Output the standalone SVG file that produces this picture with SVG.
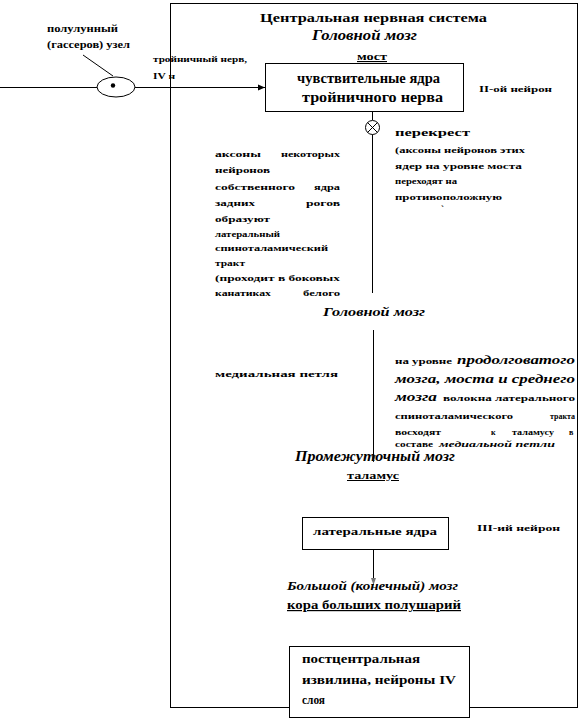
<svg xmlns="http://www.w3.org/2000/svg" width="581" height="720" viewBox="0 0 581 720">
<style>
text{font-family:"Liberation Serif","DejaVu Serif",serif;font-weight:bold;fill:#000}
.i{font-style:italic}
.u{text-decoration:underline}
.ln{stroke:#000;stroke-width:1;fill:none}
.box{stroke:#000;stroke-width:1;fill:#fff}
</style>
<defs>
<marker id="ah" markerWidth="8" markerHeight="8" refX="7" refY="4" orient="auto" markerUnits="userSpaceOnUse">
<path d="M0,1 L7,4 L0,7 Z" fill="#000"/>
</marker>
<marker id="ahg" markerWidth="8" markerHeight="8" refX="7" refY="4" orient="auto" markerUnits="userSpaceOnUse">
<path d="M0,1.5 L7,4 L0,6.5 Z" fill="#777"/>
</marker>
</defs>
<g id="frame">
<rect x="170.5" y="3.5" width="407" height="704" class="ln"/>
</g>
<g id="connectors">
<line x1="0" y1="87.5" x2="97" y2="87.5" class="ln"/>
<line x1="135" y1="87.5" x2="265" y2="87.5" class="ln" marker-end="url(#ah)"/>
<line x1="83" y1="55" x2="113" y2="76" class="ln"/>
<line x1="372.5" y1="111" x2="372.5" y2="120" class="ln"/>
<line x1="372.5" y1="134" x2="372.5" y2="293" class="ln"/>
<line x1="373.5" y1="330" x2="373.5" y2="462" class="ln" marker-end="url(#ahg)"/>
<line x1="373.5" y1="549" x2="373.5" y2="585" class="ln" stroke="#555" marker-end="url(#ahg)"/>
</g>
<g id="ganglion">
<ellipse cx="116" cy="87" rx="19" ry="10" class="box"/>
<circle cx="113" cy="85.5" r="2.2" fill="#000"/>
<text x="47" y="32" font-size="10" textLength="71" lengthAdjust="spacingAndGlyphs">полулунный</text>
<text x="47" y="48" font-size="10" textLength="83" lengthAdjust="spacingAndGlyphs">(гассеров) узел</text>
</g>
<g id="nerve-label">
<text x="153" y="62" font-size="8" textLength="94" lengthAdjust="spacingAndGlyphs">тройничный нерв,</text>
<text x="153" y="79" font-size="9" textLength="22" lengthAdjust="spacingAndGlyphs">IV н</text>
</g>
<g id="titles">
<text x="260" y="22" font-size="13" textLength="227" lengthAdjust="spacingAndGlyphs">Центральная нервная система</text>
<text x="312" y="40" font-size="14" class="i" textLength="105" lengthAdjust="spacingAndGlyphs">Головной мозг</text>
<text x="357" y="60" font-size="11" class="u" textLength="30" lengthAdjust="spacingAndGlyphs">мост</text>
</g>
<g id="node-trigeminal">
<rect x="265.5" y="63.5" width="198" height="48" class="box"/>
<text x="297" y="83" font-size="14" textLength="143" lengthAdjust="spacingAndGlyphs">чувствительные ядра</text>
<text x="302" y="102" font-size="14" textLength="141" lengthAdjust="spacingAndGlyphs">тройничного нерва</text>
</g>
<text x="479" y="92" font-size="9" textLength="73" lengthAdjust="spacingAndGlyphs">II-ой  нейрон</text>
<g id="cross">
<circle cx="372.5" cy="127.5" r="7" class="box"/>
<line x1="367.5" y1="122.5" x2="377.5" y2="132.5" class="ln"/>
<line x1="377.5" y1="122.5" x2="367.5" y2="132.5" class="ln"/>
</g>
<g id="cross-text">
<text x="395" y="136" font-size="11" textLength="75" lengthAdjust="spacingAndGlyphs">перекрест</text>
<text x="395" y="153" font-size="8" textLength="130" lengthAdjust="spacingAndGlyphs">(аксоны нейронов этих</text>
<text x="395" y="169" font-size="8" textLength="127" lengthAdjust="spacingAndGlyphs">ядер на уровне моста</text>
<text x="395" y="184" font-size="8" textLength="62" lengthAdjust="spacingAndGlyphs">переходят на</text>
<text x="395" y="200" font-size="8" textLength="107" lengthAdjust="spacingAndGlyphs">противоположную</text>
<text x="441" y="212" font-size="9">`</text>
</g>
<g id="left-text">
<text x="215" y="157" font-size="8" textLength="46" lengthAdjust="spacingAndGlyphs">аксоны</text><text x="281" y="157" font-size="8" textLength="59" lengthAdjust="spacingAndGlyphs">некоторых</text>
<text x="215" y="173" font-size="8" textLength="55" lengthAdjust="spacingAndGlyphs">нейронов</text>
<text x="215" y="190" font-size="8" textLength="80" lengthAdjust="spacingAndGlyphs">собственного</text><text x="314" y="190" font-size="8" textLength="26" lengthAdjust="spacingAndGlyphs">ядра</text>
<text x="215" y="206" font-size="8" textLength="40" lengthAdjust="spacingAndGlyphs">задних</text><text x="306" y="206" font-size="8" textLength="34" lengthAdjust="spacingAndGlyphs">рогов</text>
<text x="215" y="222" font-size="8" textLength="55" lengthAdjust="spacingAndGlyphs">образуют</text>
<text x="215" y="237" font-size="8" textLength="65" lengthAdjust="spacingAndGlyphs">латеральный</text>
<text x="215" y="251" font-size="8" textLength="113" lengthAdjust="spacingAndGlyphs">спиноталамический</text>
<text x="215" y="266" font-size="8" textLength="30" lengthAdjust="spacingAndGlyphs">тракт</text>
<text x="215" y="281" font-size="8" textLength="125" lengthAdjust="spacingAndGlyphs">(проходит  в  боковых</text>
<text x="215" y="296" font-size="8" textLength="56" lengthAdjust="spacingAndGlyphs">канатиках</text><text x="303" y="296" font-size="8" textLength="37" lengthAdjust="spacingAndGlyphs">белого</text>
</g>
<text x="323" y="316" font-size="13" class="i" textLength="102" lengthAdjust="spacingAndGlyphs">Головной мозг</text>
<text x="215" y="377" font-size="9" textLength="123" lengthAdjust="spacingAndGlyphs">медиальная петля</text>
<g id="right-text">
<text x="395" y="364" font-size="8" textLength="57" lengthAdjust="spacingAndGlyphs">на уровне</text>
<text x="457" y="364" font-size="12" class="i" font-weight="normal" textLength="118" lengthAdjust="spacingAndGlyphs">продолговатого</text>
<text x="395" y="383" font-size="12" class="i" font-weight="normal" textLength="180" lengthAdjust="spacingAndGlyphs">мозга,  моста  и  среднего</text>
<text x="395" y="401" font-size="12" class="i" font-weight="normal" textLength="42" lengthAdjust="spacingAndGlyphs">мозга</text>
<text x="443" y="401" font-size="8" textLength="132" lengthAdjust="spacingAndGlyphs">волокна  латерального</text>
<text x="395" y="419" font-size="8" textLength="118" lengthAdjust="spacingAndGlyphs">спиноталамического</text><text x="550" y="419" font-size="8" textLength="25" lengthAdjust="spacingAndGlyphs">тракта</text>
<text x="395" y="435" font-size="8" textLength="46" lengthAdjust="spacingAndGlyphs">восходят</text><text x="491" y="435" font-size="8">к</text><text x="512" y="435" font-size="8" textLength="42" lengthAdjust="spacingAndGlyphs">таламусу</text><text x="569" y="435" font-size="8">в</text>
<text x="395" y="447" font-size="8" textLength="38" lengthAdjust="spacingAndGlyphs">составе</text>
<text x="439" y="447" font-size="8" class="i" textLength="116" lengthAdjust="spacingAndGlyphs">медиальной петли</text>
</g>
<text x="295" y="461" font-size="14" class="i" textLength="160" lengthAdjust="spacingAndGlyphs">Промежуточный мозг</text>
<text x="347" y="479" font-size="10" class="u" textLength="52" lengthAdjust="spacingAndGlyphs">таламус</text>
<g id="node-lateral">
<rect x="302.5" y="517.5" width="146" height="32" class="box"/>
<text x="313" y="535" font-size="11" textLength="124" lengthAdjust="spacingAndGlyphs">латеральные ядра</text>
</g>
<text x="477" y="531" font-size="9" textLength="83" lengthAdjust="spacingAndGlyphs">III-ий  нейрон</text>
<text x="287" y="590" font-size="12" class="i" textLength="171" lengthAdjust="spacingAndGlyphs">Большой (конечный) мозг</text>
<text x="287" y="609" font-size="12" class="u" textLength="174" lengthAdjust="spacingAndGlyphs">кора больших полушарий</text>
<g id="node-cortex">
<rect x="289.5" y="646.5" width="180" height="71" class="box"/>
<text x="302" y="663" font-size="12" textLength="118" lengthAdjust="spacingAndGlyphs">постцентральная</text>
<text x="302" y="684" font-size="12" textLength="154" lengthAdjust="spacingAndGlyphs">извилина, нейроны IV</text>
<text x="302" y="704" font-size="12" textLength="23" lengthAdjust="spacingAndGlyphs">слоя</text>
</g>
</svg>
